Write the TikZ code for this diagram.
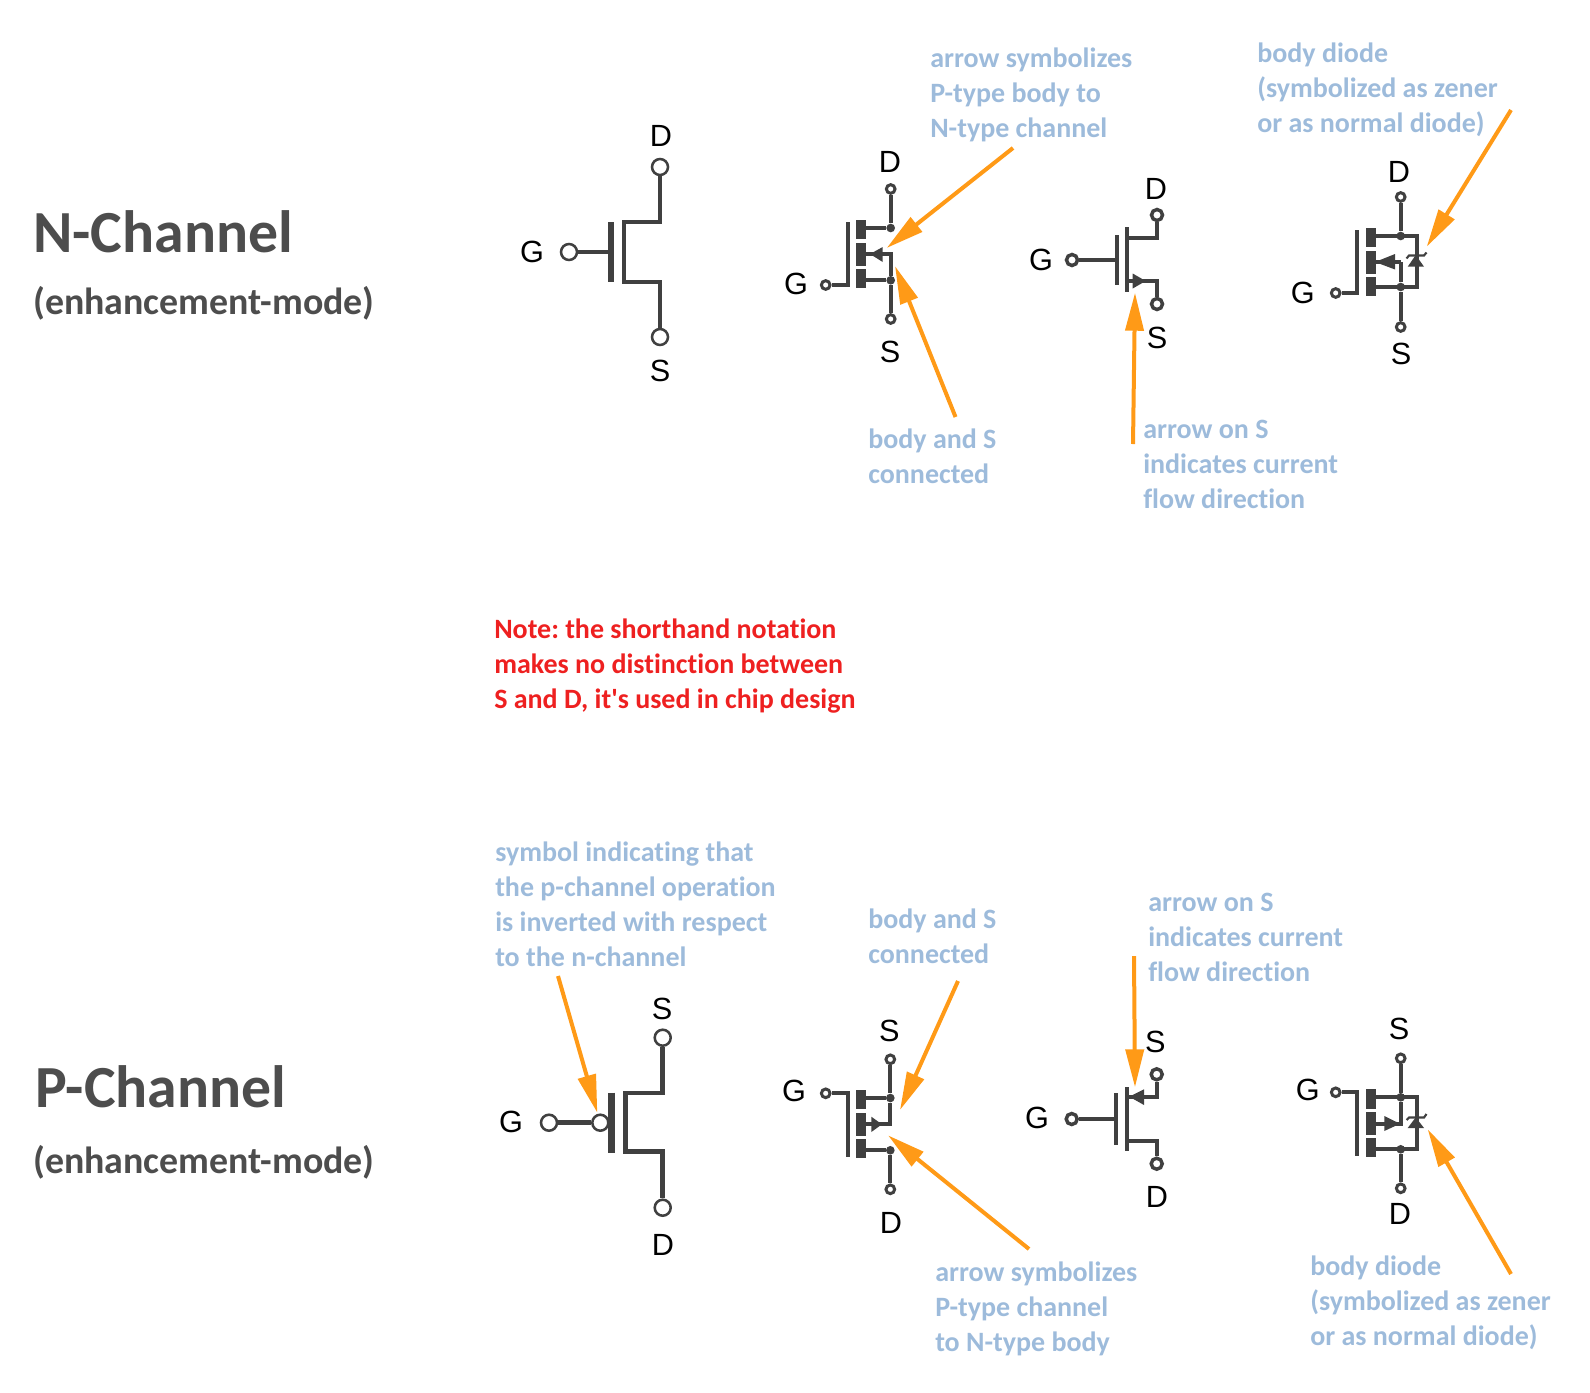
\documentclass[tikz,border=0pt]{standalone}
\usepackage{fontspec}
\setmainfont{Carlito}
\newfontfamily\notefont[RawFeature=-liga]{Carlito}
\newfontfamily\labelfont{Liberation Sans}
\usetikzlibrary{arrows.meta}
\definecolor{wirecol}{HTML}{404040}
\definecolor{headcol}{HTML}{4D4D4D}
\definecolor{notecol}{HTML}{9DBBDB}
\definecolor{redcol}{HTML}{EE2020}
\definecolor{arrowcol}{HTML}{FF9A17}
\begin{document}
\begin{tikzpicture}[x=0.75pt,y=-0.75pt]
        \tikzset{
          title/.style={anchor=west,inner sep=0pt,text=headcol,font=\fontsize{44.8}{50}\notefont\bfseries},
          subtitle/.style={anchor=west,inner sep=0pt,text=headcol,font=\fontsize{28.4}{32}\notefont\bfseries},
          note/.style={anchor=west,inner sep=0pt,align=left,text=notecol,font=\fontsize{21}{26.25}\notefont\bfseries\frenchspacing},
          rednote/.style={note,text=redcol},
          pin/.style={inner sep=0pt,text=black,font=\fontsize{23}{26}\labelfont},
          wire/.style={draw=wirecol,line width=2.8pt},
          bigwire/.style={draw=wirecol,line width=3.4pt},
          midwire/.style={draw=wirecol,line width=2.8pt},
          gatebar/.style={draw=wirecol,line width=5pt},
          bigterm/.style={circle,draw=wirecol,fill=white,inner sep=0pt,minimum size=12pt,line width=1.9pt},
          midterm/.style={circle,draw=wirecol,fill=white,inner sep=0pt,minimum size=8.25pt,line width=2.6pt},
          smallterm/.style={circle,draw=wirecol,fill=white,inner sep=0pt,minimum size=6.5pt,line width=2.25pt},
          dot/.style={circle,fill=wirecol,inner sep=0pt,minimum size=6.5pt},
          callout/.style={draw=arrowcol,line width=3pt,-{Triangle[length=28.5pt,width=13.5pt,fill=arrowcol]}},
        }
        \useasboundingbox (0,0) rectangle (1590,1392);
        % titles
        \node [title] (ntitle) at (33,232) {N-Channel};
        \node [subtitle] (nmode) at (33,303) {(enhancement-mode)};
        \node [title] (ptitle) at (35,1087) {P-Channel};
        \node [subtitle] (pmode) at (33,1162) {(enhancement-mode)};
        \node [rednote] (shorthand) at (494,666) {Note: the shorthand notation\\makes no distinction between\\S and D, it's used in chip design};
        %
        % n-channel, shorthand
        \node [bigterm] (naD) at (660,167) {};
        \node [bigterm] (naS) at (660,337) {};
        \node [bigterm] (naG) at (569,252) {};
        \node [pin] (naDl) at (661,136) {D};
        \node [pin] (naSl) at (660,371) {S};
        \node [pin] (naGl) at (532,252) {G};
        \coordinate (nagt) at (611,222);
        \coordinate (nagb) at (611,282);
        \coordinate (nact) at (624,222);
        \coordinate (nacb) at (624,282);
        \draw [gatebar] (nagt) -- (nagb);
        \draw [bigwire] (naG) -- (naG -| nagt);
        \draw [bigwire] (naD) |- (nact) -- (nacb) -| (naS);
        %
        % n-channel, body
        \node [smallterm] (nbD) at (890.7,189) {};
        \node [smallterm] (nbS) at (890.7,319) {};
        \node [smallterm] (nbG) at (825.7,285) {};
        \node [pin] (nbDl) at (890,162) {D};
        \node [pin] (nbSl) at (890,352) {S};
        \node [pin] (nbGl) at (796,284) {G};
        \node [dot] (nbdd) at (890.7,228) {};
        \node [dot] (nbds) at (890.7,280.3) {};
        \coordinate (nbgt) at (847.7,221.7);
        \coordinate (nbm) at (866,254);
        \fill [wirecol] (856,220) rectangle (866,239.3);
        \fill [wirecol] (856,243.3) rectangle (866,266);
        \fill [wirecol] (856,269.3) rectangle (866,288.3);
        \draw [wire] (nbG) -| (nbgt);
        \draw [wire] (nbD) -- (nbdd) -- (nbdd -| nbm);
        \draw [wire] (nbS) -- (nbds) -- (nbds -| nbm);
        \draw [wire] (nbm) -| (nbds);
        \fill [wirecol] (870,254) -- (882.7,247) -- (882.7,262) -- cycle;
        %
        % n-channel, arrow on S
        \node [midterm] (ncD) at (1157,215) {};
        \node [midterm] (ncS) at (1157,304) {};
        \node [midterm] (ncG) at (1072,260) {};
        \node [pin] (ncDl) at (1156,189) {D};
        \node [pin] (ncSl) at (1157,338) {S};
        \node [pin] (ncGl) at (1041,260) {G};
        \coordinate (ncgt) at (1116.7,235);
        \coordinate (ncgb) at (1116.7,285);
        \coordinate (ncct) at (1127,227);
        \coordinate (nccb) at (1127,291.7);
        \coordinate (ncdj) at (1127,238);
        \coordinate (ncsj) at (1127,281);
        \draw [midwire] (ncgt) -- (ncgb);
        \draw [midwire] (ncct) -- (nccb);
        \draw [midwire] (ncG) -- (ncG -| ncgt);
        \draw [midwire] (ncdj) -| (ncD);
        \draw [midwire] (ncsj) -| (ncS);
        \fill [wirecol] (1145.7,281) -- (1132.7,273.5) -- (1132.7,288.5) -- cycle;
        %
        % n-channel, body diode
        \node [smallterm] (ndD) at (1400.7,197) {};
        \node [smallterm] (ndS) at (1400.7,327) {};
        \node [smallterm] (ndG) at (1335.7,293) {};
        \node [pin] (ndDl) at (1399,172) {D};
        \node [pin] (ndSl) at (1401,354) {S};
        \node [pin] (ndGl) at (1302.7,293) {G};
        \node [dot] (nddd) at (1400.7,236) {};
        \node [dot] (ndds) at (1400.7,287) {};
        \coordinate (ndgt) at (1357,229.7);
        \coordinate (ndm) at (1376,262);
        \coordinate (ndr) at (1416.7,236);
        \fill [wirecol] (1366,228) rectangle (1376,247.3);
        \fill [wirecol] (1366,251.3) rectangle (1376,274);
        \fill [wirecol] (1366,277) rectangle (1376,296.3);
        \draw [wire] (ndG) -| (ndgt);
        \draw [wire] (ndD) -- (nddd);
        \draw [wire] (ndS) -- (ndds);
        \draw [wire] (ndm -| nddd) -- (ndds);
        \draw [wire] (ndm) -- (ndm -| nddd);
        \draw [wire] (nddd -| ndm) -- (ndr) -- (ndr |- ndds) -- (ndds -| ndm);
        \fill [wirecol] (1375,262) -- (1395,254) -- (1395,269.5) -- cycle;
        \fill [wirecol] (1415.7,255) -- (1424,266.7) -- (1407.7,266.7) -- cycle;
        \draw [wirecol,line width=1.6pt] (1406.5,258.5) -- (1409,255.5) -- (1424,255.5) -- (1426.5,252.5);
        %
        % p-channel, shorthand
        \node [bigterm] (paS) at (662.7,1037.7) {};
        \node [bigterm] (paD) at (662.7,1207.7) {};
        \node [bigterm] (paG) at (549,1122.7) {};
        \node [bigterm] (pai) at (600.3,1122.7) {};
        \node [pin] (paSl) at (662,1009) {S};
        \node [pin] (paDl) at (663,1245) {D};
        \node [pin] (paGl) at (511,1122) {G};
        \coordinate (pagt) at (611.3,1092.7);
        \coordinate (pagb) at (611.3,1152.7);
        \coordinate (pact) at (625.7,1093);
        \coordinate (pacb) at (625.7,1151.7);
        \draw [gatebar] (pagt) -- (pagb);
        \draw [bigwire] (paG) -- (pai);
        \draw [bigwire] (paS) |- (pact) -- (pacb) -| (paD);
        %
        % p-channel, body
        \node [smallterm] (pbS) at (890.3,1059.3) {};
        \node [smallterm] (pbD) at (890.3,1189.3) {};
        \node [smallterm] (pbG) at (825.7,1093.3) {};
        \node [pin] (pbSl) at (889.3,1031) {S};
        \node [pin] (pbDl) at (891,1223) {D};
        \node [pin] (pbGl) at (794,1091) {G};
        \node [dot] (pbds) at (890.3,1098) {};
        \node [dot] (pbdd) at (890.3,1150.3) {};
        \coordinate (pbgb) at (847.7,1156.7);
        \coordinate (pbm) at (866,1124.3);
        \fill [wirecol] (856,1090) rectangle (866,1109.3);
        \fill [wirecol] (856,1113) rectangle (866,1135.7);
        \fill [wirecol] (856,1139) rectangle (866,1158.3);
        \draw [wire] (pbG) -| (pbgb);
        \draw [wire] (pbS) -- (pbds) -- (pbds -| pbm);
        \draw [wire] (pbD) -- (pbdd) -- (pbdd -| pbm);
        \draw [wire] (pbm) -| (pbds);
        \fill [wirecol] (882,1124.3) -- (871.3,1116.7) -- (871.3,1132) -- cycle;
        %
        % p-channel, arrow on S
        \node [midterm] (pcS) at (1156.7,1074.3) {};
        \node [midterm] (pcD) at (1156.7,1163.7) {};
        \node [midterm] (pcG) at (1071.7,1119) {};
        \node [pin] (pcSl) at (1155.3,1042.3) {S};
        \node [pin] (pcDl) at (1157,1197) {D};
        \node [pin] (pcGl) at (1037,1118.3) {G};
        \coordinate (pcgt) at (1116.3,1093.3);
        \coordinate (pcgb) at (1116.3,1145);
        \coordinate (pcct) at (1127,1087.3);
        \coordinate (pccb) at (1127,1150.7);
        \coordinate (pcsj) at (1127,1096.7);
        \coordinate (pcdj) at (1127,1140.7);
        \draw [midwire] (pcgt) -- (pcgb);
        \draw [midwire] (pcct) -- (pccb);
        \draw [midwire] (pcG) -- (pcG -| pcgt);
        \draw [midwire] (pcsj) -| (pcS);
        \draw [midwire] (pcdj) -| (pcD);
        \fill [wirecol] (1129.3,1096.7) -- (1144,1089.3) -- (1144,1105) -- cycle;
        %
        % p-channel, body diode
        \node [smallterm] (pdS) at (1400.7,1058.3) {};
        \node [smallterm] (pdD) at (1400.7,1188.3) {};
        \node [smallterm] (pdG) at (1335.7,1092.3) {};
        \node [pin] (pdSl) at (1399,1029.3) {S};
        \node [pin] (pdDl) at (1400,1214) {D};
        \node [pin] (pdGl) at (1307.7,1090) {G};
        \node [dot] (pdds) at (1400.7,1097.3) {};
        \node [dot] (pddd) at (1400.7,1149.3) {};
        \coordinate (pdgb) at (1357,1156);
        \coordinate (pdm) at (1376,1123.7);
        \coordinate (pdr) at (1416.7,1097.3);
        \fill [wirecol] (1366,1089) rectangle (1376,1108.7);
        \fill [wirecol] (1366,1112.3) rectangle (1376,1134.7);
        \fill [wirecol] (1366,1138) rectangle (1376,1157.3);
        \draw [wire] (pdG) -| (pdgb);
        \draw [wire] (pdS) -- (pdds);
        \draw [wire] (pdD) -- (pddd);
        \draw [wire] (pdds) -- (pdds |- pdm) -- (pdm);
        \draw [wire] (pdds -| pdm) -- (pdr) -- (pdr |- pddd) -- (pddd -| pdm);
        \fill [wirecol] (1400,1123.7) -- (1384.3,1116) -- (1384.3,1131) -- cycle;
        \fill [wirecol] (1415.7,1117.3) -- (1424,1128) -- (1407.7,1128) -- cycle;
        \draw [wirecol,line width=1.6pt] (1406.5,1120) -- (1409,1117.5) -- (1424,1117.5) -- (1426.5,1114);
        %
        % notes
        \node [note] (nbtxt) at (930,94.5) {arrow symbolizes\\P-type body to\\N-type channel};
        \node [note] (ndtxt) at (1257,89.5) {body diode\\(symbolized as zener\\or as normal diode)};
        \node [note] (nstxt) at (868,456.5) {body and S\\connected};
        \node [note] (nctxt) at (1143,464.5) {arrow on S\\indicates current\\flow direction};
        \node [note] (patxt) at (495,904) {symbol indicating that\\the p-channel operation\\is inverted with respect\\to the n-channel};
        \node [note] (pstxt) at (868,936.5) {body and S\\connected};
        \node [note] (pctxt) at (1148,937.5) {arrow on S\\indicates current\\flow direction};
        \node [note] (pbtxt) at (935,1309) {arrow symbolizes\\P-type channel\\to N-type body};
        \node [note] (pdtxt) at (1310,1303) {body diode\\(symbolized as zener\\or as normal diode)};
        %
        % orange arrows
        \coordinate (nbtip) at (886.7,248);
        \coordinate (nbtail) at (1013,148);
        \coordinate (nstip) at (895,266);
        \coordinate (nstail) at (955.5,417);
        \coordinate (nctip) at (1135,292.7);
        \coordinate (nctail) at (1133,444);
        \coordinate (ndtip) at (1426.7,246.7);
        \coordinate (ndtail) at (1511,110);
        \coordinate (patip) at (597.3,1112.7);
        \coordinate (patail) at (558,976);
        \coordinate (pstip) at (900,1110);
        \coordinate (pstail) at (958,981);
        \coordinate (pbtip) at (888,1135.3);
        \coordinate (pbtail) at (1029,1249);
        \coordinate (pctip) at (1135,1087.3);
        \coordinate (pctail) at (1134,956);
        \coordinate (pdtip) at (1427.7,1129.3);
        \coordinate (pdtail) at (1511,1274);
        \draw [callout] (nbtail) -- (nbtip);
        \draw [callout] (nstail) -- (nstip);
        \draw [callout] (nctail) -- (nctip);
        \draw [callout] (ndtail) -- (ndtip);
        \draw [callout] (patail) -- (patip);
        \draw [callout] (pstail) -- (pstip);
        \draw [callout] (pbtail) -- (pbtip);
        \draw [callout] (pctail) -- (pctip);
        \draw [callout] (pdtail) -- (pdtip);
    \end{tikzpicture}
\end{document}
